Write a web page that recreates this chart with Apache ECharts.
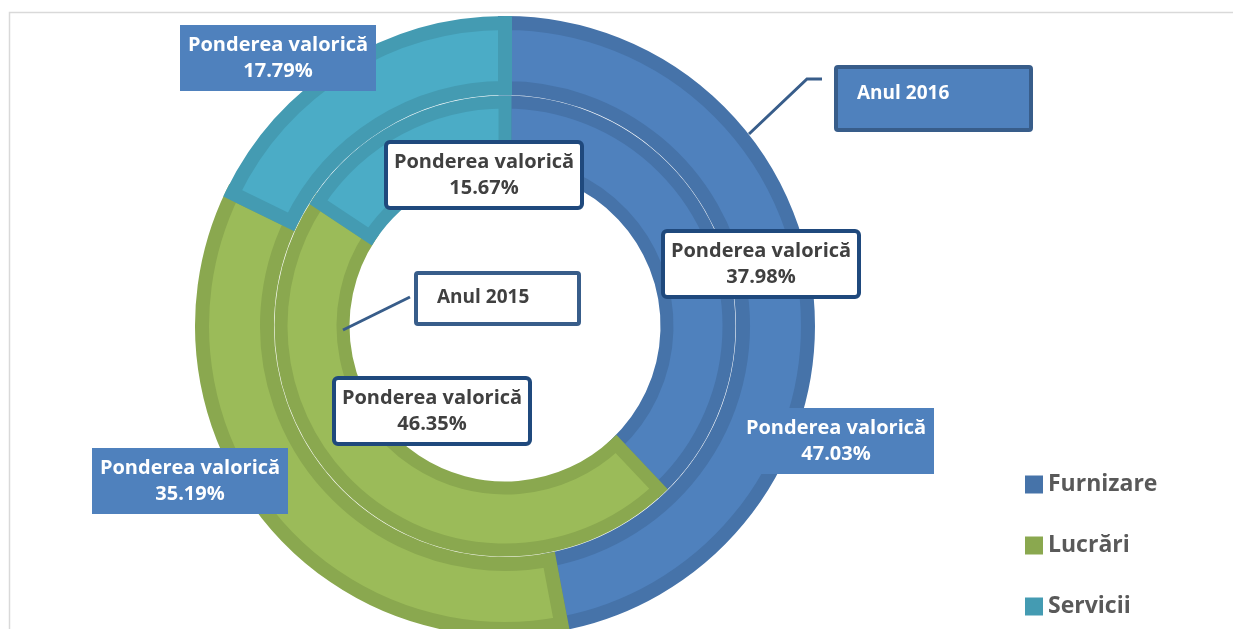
<!DOCTYPE html>
<html>
<head>
<meta charset="utf-8">
<script src="https://cdn.jsdelivr.net/npm/echarts@6/dist/echarts.min.js"></script>
<style>
  html, body { margin: 0; padding: 0; background: #fff; }
  #chart { width: 1233px; height: 629px; }
</style>
</head>
<body>
<div id="chart"></div>
<script>
// date
const categories = ['Furnizare', 'Lucrări', 'Servicii'];
const values2016 = [47.03, 35.19, 17.79];
const values2015 = [37.98, 46.35, 15.67];
const seriesNames = ['Anul 2016', 'Anul 2015'];
const labelTitle = 'Ponderea valorică';

const fills = ['#4f81bd', '#9bbb59', '#4bacc6'];
const borders = ['#4673a9', '#8aa84f', '#449bb2'];

// pozitia etichetelor (centre)
const outerLabelPos = [[836, 441], [190, 481], [278, 58]];
const innerLabelPos = [[761, 264], [432, 411], [484, 175]];

const cx = 505, cy = 326;
const font = '"Open Sans", Lato, sans-serif';

function makeData(vals) {
  return vals.map((v, i) => ({
    name: categories[i],
    value: v,
    itemStyle: { color: fills[i], borderColor: borders[i] }
  }));
}

function pctLabel(p) {
  return labelTitle + '\n' + p.value.toFixed(2) + '%';
}

const chart = echarts.init(document.getElementById('chart'));

const option = {
  animation: false,
  legend: {
    orient: 'vertical',
    left: 1020,
    top: 468,
    itemWidth: 18,
    itemHeight: 18,
    itemGap: 38,
    icon: 'rect',
    selectedMode: false,
    data: categories.map((c, i) => ({ name: c, itemStyle: { color: borders[i], borderWidth: 0 } })),
    textStyle: { fontFamily: font, fontWeight: 'bold', fontSize: 23, color: '#595959' }
  },
  graphic: [
    // rama
    { type: 'rect', z: 0, shape: { x: 9.5, y: 12.5, width: 1400, height: 800 },
      style: { fill: 'none', stroke: '#d9d9d9', lineWidth: 1.5 }, silent: true },
    // Anul 2016
    { type: 'polyline', z: 10, shape: { points: [[822, 79], [807, 79], [749, 134]] },
      style: { stroke: '#385d8a', lineWidth: 3, fill: 'none' } },
    { type: 'rect', z: 10, shape: { x: 836, y: 67, width: 195, height: 63, r: 2 },
      style: { fill: '#4f81bd', stroke: '#385d8a', lineWidth: 4 } },
    { type: 'text', z: 11, x: 857, y: 94,
      style: { text: seriesNames[0], fill: '#fff', font: 'bold 19px ' + font, verticalAlign: 'middle' } },
    // Anul 2015
    { type: 'polyline', z: 10, shape: { points: [[410, 297], [343, 330]] },
      style: { stroke: '#385d8a', lineWidth: 3, fill: 'none' } },
    { type: 'rect', z: 10, shape: { x: 416, y: 273, width: 163, height: 51, r: 2 },
      style: { fill: '#fff', stroke: '#385d8a', lineWidth: 4 } },
    { type: 'text', z: 11, x: 437, y: 298,
      style: { text: seriesNames[1], fill: '#404040', font: 'bold 19px ' + font, verticalAlign: 'middle' } }
  ],
  series: [
    {
      name: seriesNames[0],
      type: 'pie',
      center: [cx, cy],
      radius: [238, 303],
      startAngle: 90,
      avoidLabelOverlap: false,
      emphasis: { disabled: true },
      itemStyle: { borderWidth: 14, borderJoin: 'miter' },
      labelLine: { show: false },
      label: {
        show: true,
        position: 'inside',
        formatter: pctLabel,
        fontFamily: font,
        fontWeight: 'bold',
        fontSize: 20,
        lineHeight: 26,
        color: '#fff',
        backgroundColor: '#4f81bd',
        padding: [7, 6],
        width: 184,
        align: 'center'
      },
      labelLayout: p => ({
        x: outerLabelPos[p.dataIndex][0],
        y: outerLabelPos[p.dataIndex][1],
        align: 'center',
        verticalAlign: 'middle'
      }),
      data: makeData(values2016),
      z: 2
    },
    {
      name: seriesNames[1],
      type: 'pie',
      center: [cx, cy],
      radius: [162, 224],
      startAngle: 90,
      avoidLabelOverlap: false,
      emphasis: { disabled: true },
      itemStyle: { borderWidth: 13, borderJoin: 'miter' },
      labelLine: { show: false },
      label: {
        show: true,
        position: 'inside',
        formatter: pctLabel,
        fontFamily: font,
        fontWeight: 'bold',
        fontSize: 20,
        lineHeight: 26,
        color: '#404040',
        backgroundColor: '#fff',
        borderColor: '#1f497d',
        borderWidth: 4,
        borderRadius: 2,
        padding: [5, 4],
        width: 184,
        align: 'center'
      },
      labelLayout: p => ({
        x: innerLabelPos[p.dataIndex][0],
        y: innerLabelPos[p.dataIndex][1],
        align: 'center',
        verticalAlign: 'middle'
      }),
      data: makeData(values2015),
      z: 3
    }
  ]
};

chart.setOption(option);
</script>
</body>
</html>
